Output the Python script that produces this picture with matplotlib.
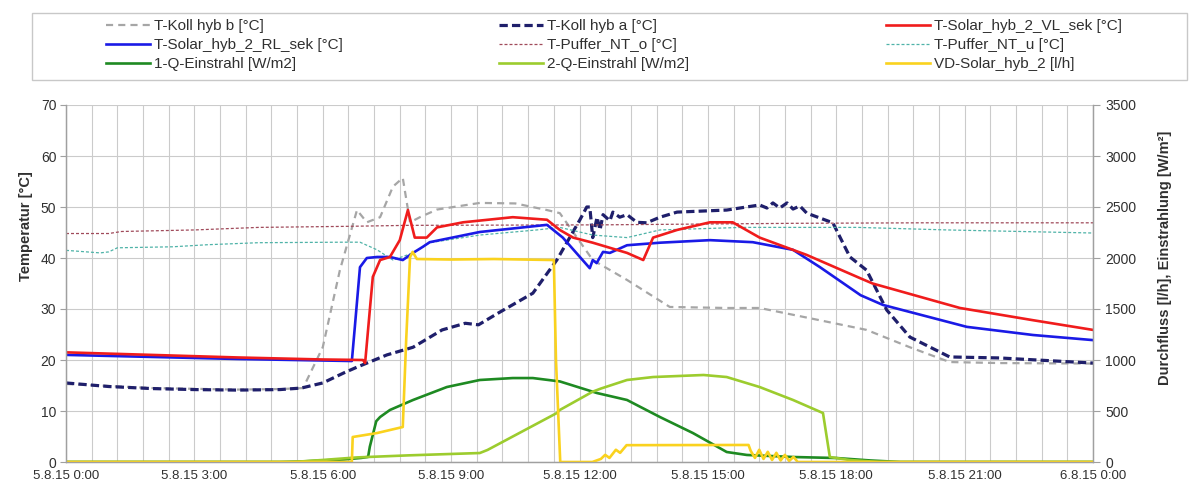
import numpy as np
import pandas as pd
import matplotlib
matplotlib.use("Agg")
import matplotlib.pyplot as plt
import matplotlib.dates as mdates
from matplotlib.patches import Rectangle

plt.rcParams['font.family'] = ['Liberation Sans', 'DejaVu Sans']

# --- measured series (hours since 5.8.15 0:00) -------------------------------
koll_b_h = [0, 2, 4, 5.0, 5.54, 6.0, 6.4, 6.8, 7.03, 7.34, 7.64, 7.87, 8.04, 8.27,
            8.67, 9.67, 10.5, 11.24, 11.54, 12.31, 13.11, 14.11, 15.44, 16.21,
            17.38, 18.71, 19.72, 20.65, 21.82, 24]
koll_b_t = [15.3, 14.5, 14.2, 14.3, 14.5, 22.5, 37.6, 49.4, 47.0, 48.0, 54.0, 55.7,
            47.0, 48.0, 49.5, 50.8, 50.7, 49.4, 48.8, 39.6, 35.7, 30.4, 30.2, 30.2,
            28.2, 25.9, 22.5, 19.6, 19.4, 19.3]

koll_a_h = [0, 1, 2, 3, 4, 5, 5.5, 6.0, 6.5, 6.8, 7.5, 8.11, 8.79, 9.33, 9.64, 10.1,
            10.91, 11.47, 12.01, 12.17, 12.24, 12.31, 12.41, 12.48, 12.55, 12.71,
            12.78, 12.94, 13.11, 13.34, 13.57, 13.88, 14.28, 15.44, 16.21, 16.38,
            16.52, 16.68, 16.85, 16.99, 17.15, 17.31, 17.92, 18.32, 18.71, 19.18,
            19.72, 20.65, 21.82, 24]
koll_a_t = [15.5, 14.8, 14.4, 14.2, 14.1, 14.2, 14.5, 15.5, 17.5, 18.6, 21.0, 22.5,
            25.9, 27.2, 26.9, 29.2, 33.1, 39.6, 47.5, 50.0, 50.0, 44.0, 48.0, 45.5,
            48.5, 47.3, 49.0, 48.0, 48.5, 47.0, 46.9, 48.0, 49.0, 49.4, 50.4, 49.8,
            50.8, 49.8, 50.8, 49.6, 50.2, 48.8, 46.9, 40.2, 37.6, 29.8, 24.5, 20.6,
            20.4, 19.4]

vl_h = [0, 2, 4, 6, 6.94, 6.99, 7.1, 7.17, 7.34, 7.57, 7.8, 7.99, 8.15, 8.43, 8.67,
        9.28, 10.44, 11.24, 11.54, 11.85, 12.31, 13.11, 13.49, 13.72, 14.28, 15.05,
        15.58, 16.21, 17.31, 18.57, 18.85, 20.89, 22.6, 24]
vl_t = [21.5, 21.0, 20.5, 20.1, 20.0, 19.4, 29.8, 36.3, 39.6, 40.2, 43.5, 49.4, 44.0,
        44.0, 46.0, 47.0, 48.0, 47.5, 45.5, 44.0, 43.0, 41.0, 39.6, 44.0, 45.5, 47.0,
        47.0, 44.0, 40.6, 36.0, 35.0, 30.2, 27.8, 25.9]

rl_h = [0, 2, 4, 6, 6.68, 6.75, 6.87, 7.03, 7.27, 7.57, 7.87, 8.11, 8.34, 8.5, 9.67,
        11.24, 11.61, 12.24, 12.31, 12.4, 12.55, 12.71, 13.11, 13.88, 15.05, 16.05,
        16.99, 17.62, 18.57, 19.09, 21.05, 22.6, 24]
rl_t = [21.0, 20.6, 20.2, 19.9, 19.8, 26.5, 38.2, 40.0, 40.2, 40.2, 39.6, 41.0, 42.2,
        43.1, 45.1, 46.5, 44.0, 38.0, 39.6, 39.0, 41.2, 41.0, 42.5, 43.0, 43.5, 43.1,
        41.6, 38.2, 32.7, 30.8, 26.5, 24.9, 23.9]

puffer_o_h = [0, 1.0, 1.3, 3.0, 4.5, 6.5, 8.0, 12.5, 17.0, 20.0, 24]
puffer_o_t = [44.8, 44.8, 45.2, 45.5, 46.0, 46.2, 46.4, 46.5, 46.8, 46.9, 46.9]

puffer_u_h = [0, 0.8, 1.0, 1.2, 2.5, 3.3, 4.5, 6.5, 6.87, 7.27, 7.64, 8.11, 8.5, 9.67,
              11.0, 11.54, 12.31, 13.11, 13.88, 15.8, 18.5, 20.6, 24]
puffer_u_t = [41.5, 41.0, 41.2, 42.0, 42.2, 42.6, 43.0, 43.1, 43.1, 41.6, 39.6, 41.0,
              43.0, 44.5, 45.5, 46.0, 44.5, 44.0, 45.5, 46.0, 46.0, 45.5, 44.9]

q1_h = [0, 5.0, 5.5, 6.0, 6.5, 6.9, 7.06, 7.1, 7.25, 7.34, 7.57, 8.11, 8.9, 9.67,
        10.44, 10.91, 11.54, 12.41, 13.11, 13.88, 14.65, 15.44, 15.91, 16.99, 18.0,
        18.8, 19.5, 24]
q1_w = [0, 0, 5, 15, 25, 40, 50, 150, 400, 441, 510, 608, 735, 804, 823, 823, 790,
        676, 608, 441, 284, 98, 69, 49, 39, 15, 0, 0]

q2_h = [0, 5.3, 6.0, 6.8, 8.0, 9.67, 9.85, 11.47, 11.54, 12.31, 12.5, 13.11, 13.72,
        14.9, 15.44, 16.21, 16.99, 17.69, 17.85, 18.3, 19.0, 24]
q2_w = [0, 0, 20, 45, 65, 88, 118, 480, 510, 690, 720, 804, 833, 853, 833, 735, 608,
        480, 49, 20, 0, 0]

vd_h = [0, 6.68, 6.7, 7.27, 7.87, 7.95, 8.04, 8.1, 8.2, 9.0, 10.0, 11.4, 11.45, 11.55,
        12.3, 12.5, 12.6, 12.7, 12.85, 12.95, 13.1, 15.95, 16.0, 16.1, 16.2, 16.3,
        16.4, 16.5, 16.6, 16.7, 16.8, 16.9, 17.0, 17.1, 24]
vd_lh = [0, 0, 245, 284, 343, 1200, 2009, 2060, 1990, 1985, 1990, 1980, 1000, 0, 0,
         30, 70, 40, 120, 90, 165, 167, 110, 40, 120, 30, 100, 20, 90, 15, 70, 10, 50,
         0, 0]

start = pd.Timestamp('2015-08-05')


def when(hours):
    return (start + pd.to_timedelta(np.asarray(hours, dtype=float), unit='h')).values


fig = plt.figure(figsize=(11.89, 4.86), dpi=100)
W, H = 1189, 486
ax = fig.add_axes([66 / W, 1 - 462 / H, (1093 - 66) / W, (462 - 105) / H])
ax2 = ax.twinx()

grid_c = '#cbcbcb'
txt_c = '#303030'

# left axis: temperatures
l_kb, = ax.plot(when(koll_b_h), koll_b_t, color='#a6a6a6', lw=1.6, dashes=(3.2, 2.3),
                label='T-Koll hyb b [°C]')
l_ka, = ax.plot(when(koll_a_h), koll_a_t, color='#1f1f6b', lw=2.3, dashes=(2.6, 1.3),
                label='T-Koll hyb a [°C]')
l_po, = ax.plot(when(puffer_o_h), puffer_o_t, color='#a04a5a', lw=0.9, dashes=(2.4, 1.6),
                label='T-Puffer_NT_o [°C]')
l_pu, = ax.plot(when(puffer_u_h), puffer_u_t, color='#4fb3a8', lw=0.9, dashes=(2.4, 1.6),
                label='T-Puffer_NT_u [°C]')
l_rl, = ax.plot(when(rl_h), rl_t, color='#1a1ae6', lw=1.9, label='T-Solar_hyb_2_RL_sek [°C]')
l_vl, = ax.plot(when(vl_h), vl_t, color='#f01c1c', lw=1.9, label='T-Solar_hyb_2_VL_sek [°C]')

# right axis: irradiance and flow
l_q1, = ax2.plot(when(q1_h), q1_w, color='#1e8a22', lw=1.9, label='1-Q-Einstrahl [W/m2]')
l_q2, = ax2.plot(when(q2_h), q2_w, color='#9ccc2e', lw=1.9, label='2-Q-Einstrahl [W/m2]')
l_vd, = ax2.plot(when(vd_h), vd_lh, color='#fad21e', lw=1.9, label='VD-Solar_hyb_2 [l/h]')

ax.set_xlim(when([0])[0], when([24])[0])
ax.set_ylim(0, 70)
ax2.set_ylim(0, 3500)
ax.set_yticks(np.arange(0, 71, 10))
ax2.set_yticks(np.arange(0, 3501, 500))

# labels every 3 h, grid every 36 min
ax.xaxis.set_major_locator(mdates.HourLocator(byhour=range(0, 24, 3)))
ax.xaxis.set_minor_locator(
    matplotlib.ticker.FixedLocator(mdates.date2num(pd.date_range(start, periods=41, freq='36min'))))
ax.xaxis.set_major_formatter(mdates.DateFormatter('%-d.%-m.%y %-H:%M'))

ax.grid(True, which='both', axis='x', color=grid_c, lw=0.8)
ax.grid(True, which='major', axis='y', color=grid_c, lw=0.8)
ax.set_axisbelow(True)

for a in (ax, ax2):
    for s in a.spines.values():
        s.set_color('#a0a0a0')
        s.set_linewidth(0.9)
    a.spines['top'].set_visible(False)
ax.tick_params(axis='x', which='both', length=0, labelsize=9.5, labelcolor=txt_c, pad=6)
ax.tick_params(axis='y', length=4, color='#a0a0a0', labelsize=10, labelcolor=txt_c, pad=3)
ax2.tick_params(axis='y', length=5, color='#a0a0a0', labelsize=10, labelcolor=txt_c, pad=4)

fig.text(26 / W, 1 - 226 / H, 'Temperatur [°C]', rotation=90, ha='center', va='center',
         fontsize=10.5, fontweight='bold', color=txt_c)
fig.text(1165 / W, 1 - 258 / H, 'Durchfluss [l/h], Einstrahlung [W/m²]', rotation=90,
         ha='center', va='center', fontsize=10.5, fontweight='bold', color=txt_c)

# legend: frame plus three columns, filled row by row
fig.add_artist(Rectangle((32 / W, 1 - 80 / H), (1187 - 32) / W, (80 - 13) / H,
                         transform=fig.transFigure, fill=False, edgecolor='#c8c8c8', lw=1))
columns = [([l_kb, l_rl, l_q1], 106), ([l_ka, l_po, l_q2], 499), ([l_vl, l_pu, l_vd], 886)]
for handles, x0 in columns:
    leg = fig.legend(handles=handles, loc='upper left', bbox_to_anchor=(x0 / W, 1 - 19 / H),
                     frameon=False, fontsize=11, handlelength=2.9, handletextpad=0.25,
                     labelspacing=0.33, borderpad=0, borderaxespad=0)
    for t in leg.get_texts():
        t.set_color(txt_c)

fig.savefig('out.png', dpi=100)
